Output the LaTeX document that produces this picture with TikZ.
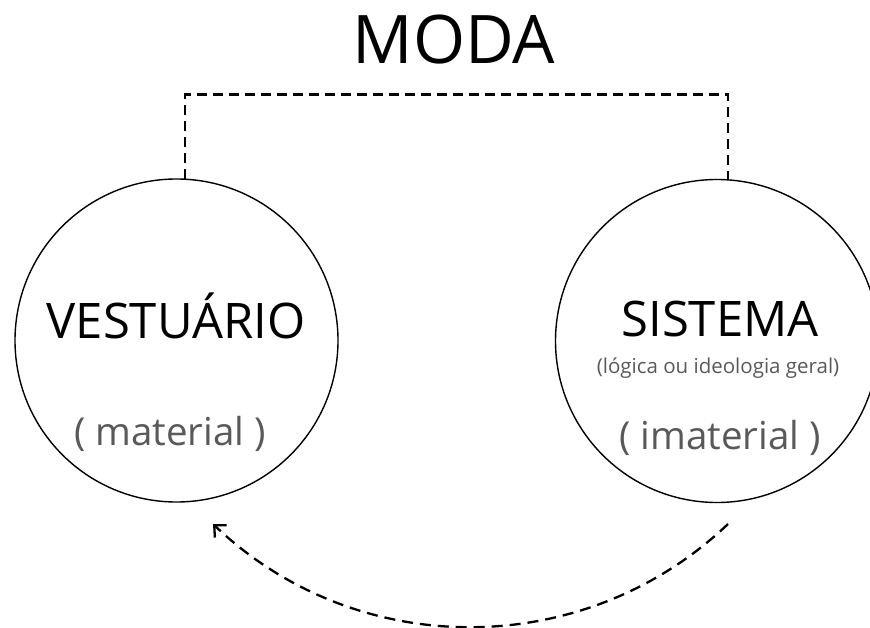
\documentclass[tikz,border=0pt]{standalone}
\usepackage{fontspec}
\setmainfont{Open Sans}
\usetikzlibrary{arrows.meta}
\definecolor{subgray}{HTML}{595959}
\tikzset{
  ring/.style={circle, draw=black, line width=1.4pt, minimum size=323pt, inner sep=0pt},
  link/.style={line width=2.3pt, dash pattern=on 10pt off 6pt},
  headline/.style={font=\fontsize{49}{54}\selectfont, text=black, inner sep=0pt, anchor=base},
  subline/.style={font=\fontsize{38.5}{42}\selectfont, text=subgray, inner sep=0pt, anchor=base},
  note/.style={font=\fontsize{20.5}{22}\selectfont, text=subgray, inner sep=0pt, anchor=base}
}
\begin{document}
\begin{tikzpicture}[x=1pt, y=-1pt]
  \useasboundingbox (0,0) rectangle (870,628);

  % title
  \node[font=\fontsize{67}{72}\selectfont, inner sep=0pt, anchor=base] (title) at (454,64) {MODA};

  % the two circles
  \node[ring] (vest) at (176.5,340.5) {};
  \node[ring] (sist) at (717,341) {};

  % texts inside the circles
  \node[headline] (vestname) at (176,338) {VESTUÁRIO};
  \node[subline]  (vestkind) at (170,445) {( material )};
  \node[headline] (sistname) at (720,337) {SISTEMA};
  \node[note]     (sistnote) at (718,373) {(lógica ou ideologia geral)};
  \node[subline]  (sistkind) at (720,449) {( imaterial )};

  % dashed bracket joining the circle tops
  \draw[link] (vest.87.7) -- ++(0,-84) -| (sist.86.1);

  % dashed return arc below
  \coordinate (arcstart) at (728,524);
  \coordinate (arcend) at (213,523);
  \draw[link, dash pattern=on 11pt off 7pt, -{Straight Barb[length=9pt, width=17pt, line width=2.3pt]}]
    (arcstart) arc[start angle=46.4, end angle=133.6, radius=373.4];
\end{tikzpicture}
\end{document}
